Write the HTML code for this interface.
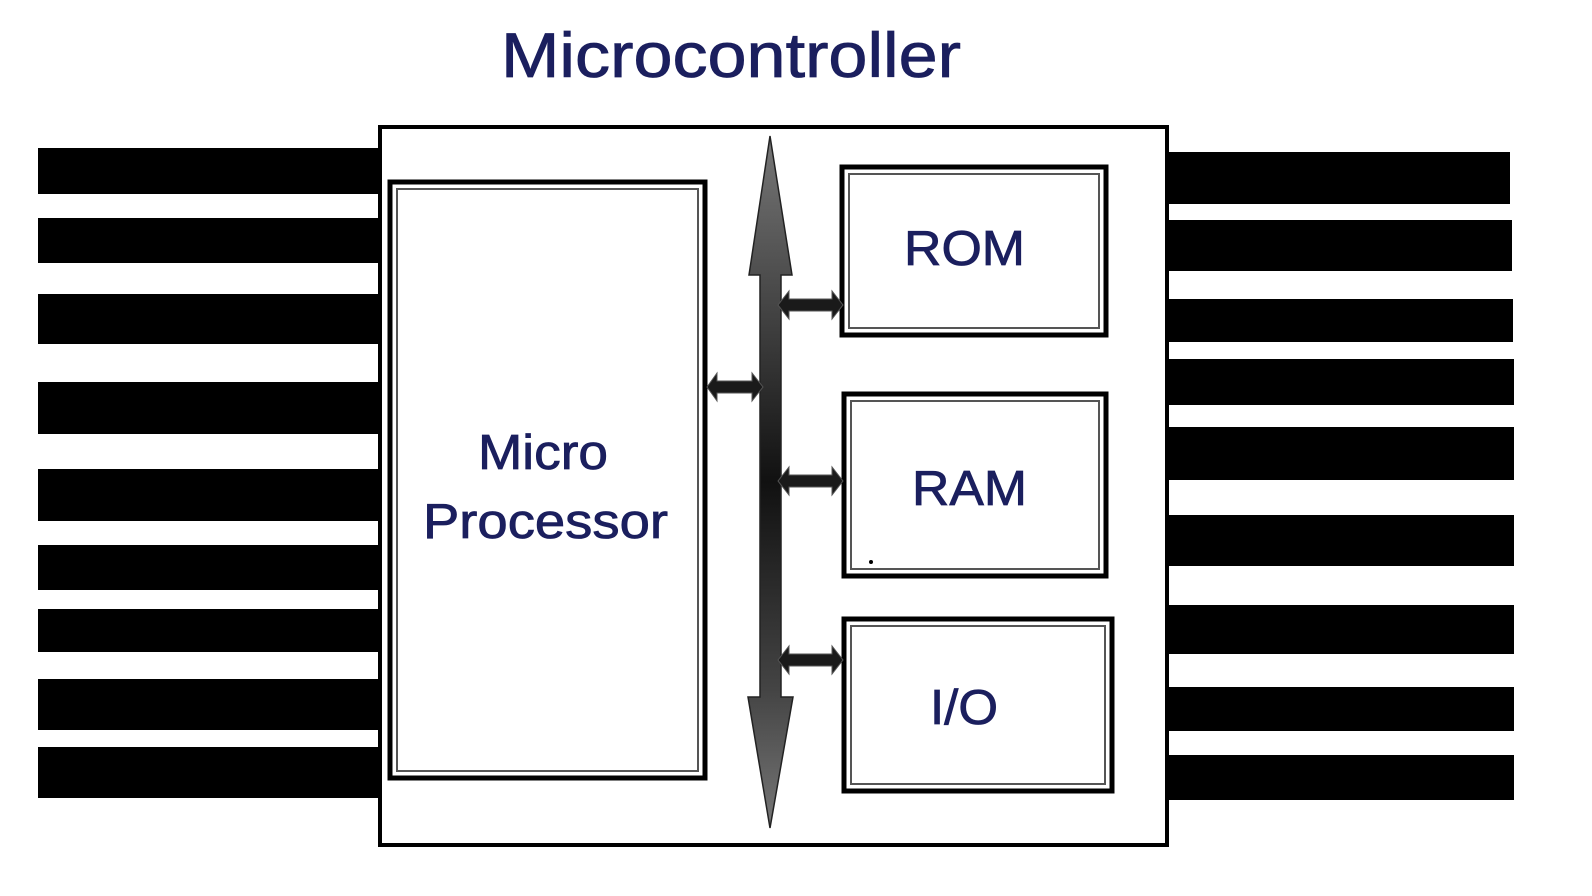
<!DOCTYPE html>
<html><head><meta charset="utf-8"><style>
html,body{margin:0;padding:0;background:#fff;width:1592px;height:896px;overflow:hidden}
svg{display:block}
text{font-family:"Liberation Sans",sans-serif;fill:#1b1f5e;stroke:#1b1f5e;stroke-width:0.8}
</style></head><body>
<svg width="1592" height="896" viewBox="0 0 1592 896">
<defs>
<linearGradient id="g" x1="0" y1="0" x2="0" y2="1">
<stop offset="0" stop-color="#777"/><stop offset="0.25" stop-color="#444"/><stop offset="0.5" stop-color="#111"/><stop offset="0.8" stop-color="#444"/><stop offset="1" stop-color="#777"/>
</linearGradient>
</defs>
<g fill="#000">
<rect x="38" y="148" width="340" height="46"/>
<rect x="38" y="218" width="340" height="45"/>
<rect x="38" y="294" width="340" height="50"/>
<rect x="38" y="382" width="340" height="52"/>
<rect x="38" y="469" width="340" height="52"/>
<rect x="38" y="545" width="340" height="45"/>
<rect x="38" y="609" width="340" height="43"/>
<rect x="38" y="679" width="340" height="51"/>
<rect x="38" y="747" width="340" height="51"/>
<rect x="1168" y="152" width="342" height="52"/>
<rect x="1168" y="220" width="344" height="51"/>
<rect x="1168" y="299" width="345" height="43"/>
<rect x="1168" y="359" width="346" height="46"/>
<rect x="1168" y="427" width="346" height="53"/>
<rect x="1168" y="515" width="346" height="51"/>
<rect x="1168" y="605" width="346" height="49"/>
<rect x="1168" y="687" width="346" height="44"/>
<rect x="1168" y="755" width="346" height="45"/>
</g>
<rect x="380" y="127" width="787" height="718" fill="#fff" stroke="#000" stroke-width="4"/>
<rect x="390" y="182" width="315" height="596" fill="#fff" stroke="#000" stroke-width="5"/>
<rect x="397" y="189" width="301" height="582" fill="none" stroke="#555" stroke-width="2"/>
<rect x="842" y="167" width="264" height="168" fill="#fff" stroke="#000" stroke-width="5"/>
<rect x="849" y="174" width="250" height="154" fill="none" stroke="#555" stroke-width="2"/>
<rect x="844" y="394" width="262" height="182" fill="#fff" stroke="#000" stroke-width="5"/>
<rect x="851" y="401" width="248" height="168" fill="none" stroke="#555" stroke-width="2"/>
<rect x="844" y="619" width="268" height="172" fill="#fff" stroke="#000" stroke-width="5"/>
<rect x="851" y="626" width="254" height="158" fill="none" stroke="#555" stroke-width="2"/>
<path d="M770,136 L792,275 L781,275 L781,697 L793,697 L770,828 L748,697 L760,697 L760,275 L749,275 Z" fill="url(#g)" stroke="#222" stroke-width="1.5"/>
<g fill="#1a1a1a" stroke="#555" stroke-width="1">
<path d="M707,387 L717,373 L717,381 L752,381 L752,373 L763,387 L752,401 L752,393 L717,393 L717,401 Z"/>
<path d="M778,305 L789,291 L789,299 L832,299 L832,291 L843,305 L832,319 L832,311 L789,311 L789,319 Z"/>
<path d="M778,481 L789,467 L789,475 L832,475 L832,467 L843,481 L832,495 L832,487 L789,487 L789,495 Z"/>
<path d="M778,660 L789,646 L789,654 L832,654 L832,646 L843,660 L832,674 L832,666 L789,666 L789,674 Z"/>
</g>
<circle cx="871" cy="562" r="2" fill="#000"/>
<text x="501" y="77" font-size="63" textLength="460" lengthAdjust="spacingAndGlyphs">Microcontroller</text>
<text x="478" y="469" font-size="49" textLength="130" lengthAdjust="spacingAndGlyphs">Micro</text>
<text x="423" y="538" font-size="49" textLength="245" lengthAdjust="spacingAndGlyphs">Processor</text>
<text x="904" y="265" font-size="49" textLength="121" lengthAdjust="spacingAndGlyphs">ROM</text>
<text x="912" y="505" font-size="49" textLength="115" lengthAdjust="spacingAndGlyphs">RAM</text>
<text x="930" y="724" font-size="49" textLength="68" lengthAdjust="spacingAndGlyphs">I/O</text>
</svg>
</body></html>
